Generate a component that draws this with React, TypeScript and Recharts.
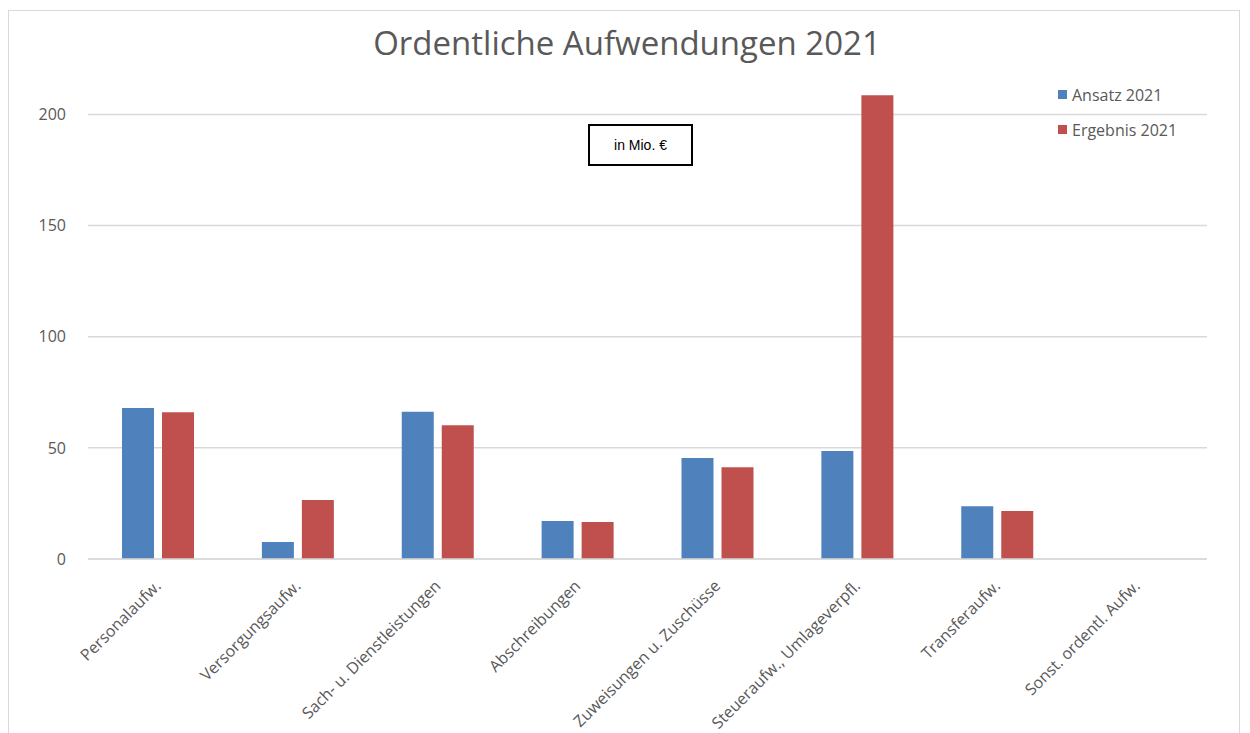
import { Bar, BarChart, CartesianGrid, Legend, XAxis, YAxis } from "recharts"

const categories = [
  "Personalaufw.",
  "Versorgungsaufw.",
  "Sach- u. Dienstleistungen",
  "Abschreibungen",
  "Zuweisungen u. Zuschüsse",
  "Steueraufw., Umlageverpfl.",
  "Transferaufw.",
  "Sonst. ordentl. Aufw.",
]
const ansatz = [67.9, 7.6, 66.3, 17.1, 45.4, 48.6, 23.7, 0]
const ergebnis = [66.0, 26.5, 60.2, 16.6, 41.3, 208.6, 21.6, 0]
const yTicks = [0, 50, 100, 150, 200]

const series = [
  { key: "ansatz", name: "Ansatz 2021", color: "#4F81BD" },
  { key: "ergebnis", name: "Ergebnis 2021", color: "#C0504D" },
]

const data = categories.map((name, i) => ({
  name,
  ansatz: ansatz[i],
  ergebnis: ergebnis[i],
}))

const FONT = "'Open Sans', sans-serif"
const GREY = "#595959"

const AngledTick = ({ x, y, payload }: any) => (
  <g transform={`translate(${x + 4},${y + 20}) rotate(-45)`}>
    <text
      x={0}
      y={0}
      textAnchor="end"
      fontSize={16}
      fontFamily={FONT}
      fill={GREY}
    >
      {payload.value}
    </text>
  </g>
)

const LegendBox = () => (
  <div style={{ fontFamily: FONT, fontSize: 16, color: GREY }}>
    {series.map((s) => (
      <div
        key={s.key}
        style={{ display: "flex", alignItems: "center", height: 35 }}
      >
        <span
          style={{
            width: 9,
            height: 9,
            background: s.color,
            marginRight: 5,
            display: "inline-block",
          }}
        />
        {s.name}
      </div>
    ))}
  </div>
)

export default function App() {
  return (
    <div
      style={{
        position: "absolute",
        top: 0,
        left: 0,
        width: 1250,
        height: 733,
        background: "#fff",
        overflow: "hidden",
      }}
    >
      <div
        style={{
          position: "absolute",
          left: 8,
          top: 10,
          width: 1232,
          height: 740,
          border: "1px solid #d9d9d9",
          boxSizing: "border-box",
        }}
      />
      <div
        style={{
          position: "absolute",
          top: 20,
          left: 0,
          width: 1254,
          textAlign: "center",
          fontFamily: FONT,
          fontSize: 33,
          color: GREY,
        }}
      >
        Ordentliche Aufwendungen 2021
      </div>
      <div
        style={{
          position: "absolute",
          left: 588,
          top: 124,
          width: 105,
          height: 42,
          border: "2px solid #000",
          boxSizing: "border-box",
          display: "flex",
          alignItems: "center",
          justifyContent: "center",
          fontFamily: "'Liberation Sans', Arial, sans-serif",
          fontSize: 14,
          color: "#000",
          background: "#fff",
          zIndex: 2,
        }}
      >
        in Mio. €
      </div>
      <BarChart
        width={1250}
        height={733}
        data={data}
        margin={{ top: 70, right: 43, left: 28, bottom: 0 }}
        barSize={32}
        barGap={8}
        style={{ position: "absolute", top: 0, left: 0 }}
      >
        <CartesianGrid
          vertical={false}
          stroke="#d9d9d9"
          strokeWidth={1.5}
          horizontalValues={yTicks}
        />
        <XAxis
          dataKey="name"
          interval={0}
          tickLine={false}
          axisLine={{ stroke: "#d9d9d9", strokeWidth: 1.5 }}
          tick={<AngledTick />}
          height={174}
        />
        <YAxis
          width={60}
          domain={[0, 220]}
          ticks={yTicks}
          allowDataOverflow
          axisLine={false}
          tickLine={false}
          tickSize={0}
          tickMargin={22}
          tick={{ fontSize: 16, fill: GREY, fontFamily: FONT }}
        />
        <Legend
          layout="vertical"
          align="center"
          verticalAlign="middle"
          wrapperStyle={{ left: 1058, top: 77, width: 180 }}
          content={<LegendBox />}
        />
        {series.map((s) => (
          <Bar
            key={s.key}
            dataKey={s.key}
            name={s.name}
            fill={s.color}
            isAnimationActive={false}
          />
        ))}
      </BarChart>
    </div>
  )
}
